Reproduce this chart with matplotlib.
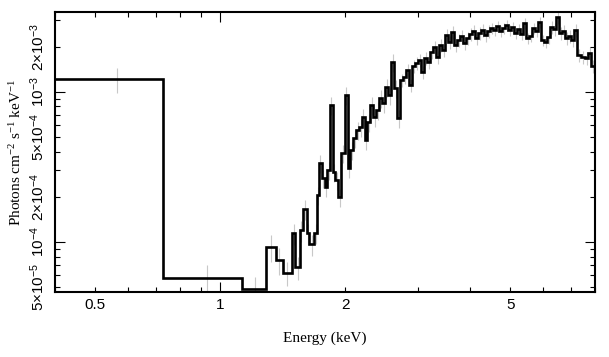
import numpy as np
import matplotlib
matplotlib.use("Agg")
import matplotlib.pyplot as plt

# spectrum bins: energy edges (keV) and flux (units of 1e-4 photons/cm2/s/keV)
edges_low = [0.40, 0.729, 1.13, 1.291, 1.362, 1.416, 1.489, 1.516, 1.558,
             1.582, 1.618, 1.638, 1.685]
flux_low = [12.15, 0.575, 0.484, 0.922, 0.755, 0.621, 1.143, 0.678, 1.197,
            1.652, 1.143, 0.966, 1.143]

edges_high = [1.710, 1.728, 1.759, 1.786, 1.811, 1.842, 1.867, 1.893, 1.925,
              1.958, 2.001, 2.029, 2.057, 2.092, 2.127, 2.163, 2.199, 2.230,
              2.261, 2.299, 2.338, 2.377, 2.417, 2.457, 2.499, 2.541, 2.583,
              2.627, 2.671, 2.715, 2.761, 2.807, 2.855, 2.902, 2.951, 3.001,
              3.051, 3.102, 3.154, 3.207, 3.261, 3.316, 3.372, 3.428, 3.486,
              3.544, 3.604, 3.664, 3.726, 3.788, 3.852, 3.917, 3.982, 4.049,
              4.117, 4.186, 4.257, 4.328, 4.401, 4.475, 4.550, 4.626, 4.704,
              4.783, 4.863, 4.945, 5.028, 5.112, 5.198, 5.285, 5.374, 5.464,
              5.556, 5.649, 5.744, 5.841, 5.939, 6.038, 6.140, 6.243, 6.348,
              6.454, 6.563, 6.673, 6.785, 6.899, 7.014, 7.132, 7.252, 7.415,
              7.581, 7.708, 7.838, 8.014]
flux_high = [2.05, 3.35, 2.66, 2.32, 3.01, 8.15, 2.92, 2.58, 1.99, 3.90,
             9.50, 3.10, 4.09, 4.91, 5.55, 5.82, 6.78, 4.76, 6.28, 8.15,
             6.78, 7.55, 9.08, 8.41, 10.75, 9.50, 15.78, 10.58, 6.68,
             11.97, 12.53, 13.95, 11.08, 14.84, 15.54, 16.30, 13.53, 16.78,
             15.78, 18.39, 19.86, 17.03, 20.50, 18.97, 23.90, 21.45, 25.00,
             20.50, 22.10, 23.50, 21.10, 22.80, 24.25, 25.40, 22.80, 24.60,
             25.80, 23.90, 25.40, 26.60, 25.80, 27.40, 25.40, 26.60, 27.80,
             25.80, 27.00, 24.60, 26.20, 24.25, 28.70, 22.80, 23.50, 26.60,
             25.40, 29.15, 22.10, 21.45, 23.15, 27.00, 26.20, 31.50, 24.60,
             25.40, 22.80, 23.50, 22.10, 25.80, 17.60, 17.03, 16.78, 18.10,
             14.84]

# fractional 1-sigma errors per bin
rel_err_low = [0.19, 0.22, 0.20, 0.20, 0.20, 0.18, 0.16, 0.18, 0.16,
               0.15, 0.16, 0.16, 0.15]
rel_err_high = ([0.14] * 29) + ([0.10] * 30) + ([0.09] * 19) + ([0.10] * 15)

edges = np.array(edges_low + edges_high)
flux = np.array(flux_low + flux_high) * 1e-4
rel_err = np.array(rel_err_low + rel_err_high)
centers = 0.5 * (edges[:-1] + edges[1:])

x_minor = [0.4, 0.5, 0.6, 0.7, 0.8, 0.9, 2, 3, 4, 5, 6, 7, 8]
x_minor_labels = ["", "0.5", "", "", "", "", "2", "", "", "5", "", "", ""]
y_minor = [5e-5, 6e-5, 7e-5, 8e-5, 9e-5, 2e-4, 3e-4, 4e-4, 5e-4, 6e-4,
           7e-4, 8e-4, 9e-4, 2e-3, 3e-3]
y_minor_labels = [r"$5{\times}10^{-5}$", "", "", "", "", r"$2{\times}10^{-4}$",
                  "", "", r"$5{\times}10^{-4}$", "", "", "", "",
                  r"$2{\times}10^{-3}$", ""]

plt.rcParams["mathtext.default"] = "regular"

fig = plt.figure(figsize=(6.09, 3.57), dpi=100)
ax = fig.add_axes([0.0903, 0.182, 0.8867, 0.784])

ax.vlines(centers, flux * (1 - rel_err), flux * (1 + rel_err),
          color="#c8c8c8", linewidth=0.8, zorder=1)
ax.stairs(flux, edges, baseline=None, color="black", linewidth=1.9, zorder=2)

ax.set_xscale("log")
ax.set_yscale("log")
ax.set_xlim(0.4, 8.0)
ax.set_ylim(4.64e-5, 3.4e-3)

ax.set_xticks([1], labels=["1"])
ax.set_xticks(x_minor, labels=x_minor_labels, minor=True)
ax.set_yticks([1e-4, 1e-3], labels=[r"$10^{-4}$", r"$10^{-3}$"])
ax.set_yticks(y_minor, labels=y_minor_labels, minor=True)

for axis in ("x", "y"):
    ax.tick_params(axis=axis, which="both", direction="in", top=True,
                   right=True, width=0.8, labelsize=11, colors="black")
ax.tick_params(which="major", length=7)
ax.tick_params(which="minor", length=3.5)
ax.tick_params(axis="x", which="both", pad=4)
ax.tick_params(axis="y", which="both", pad=6, labelrotation=90)

for lab in ax.get_xticklabels(which="both") + ax.get_yticklabels(which="both"):
    lab.set_fontfamily("Liberation Sans")
for lab in ax.get_yticklabels(which="both"):
    lab.set_verticalalignment("center")

for sp in ax.spines.values():
    sp.set_linewidth(1.5)

ax.set_xlabel("Energy (keV)", fontfamily="Liberation Serif", fontsize=11,
              labelpad=14)
ax.set_ylabel(r"Photons cm$^{-2}$ s$^{-1}$ keV$^{-1}$",
              fontfamily="Liberation Serif", fontsize=11, labelpad=3)

fig.savefig("out.png", dpi=100)
